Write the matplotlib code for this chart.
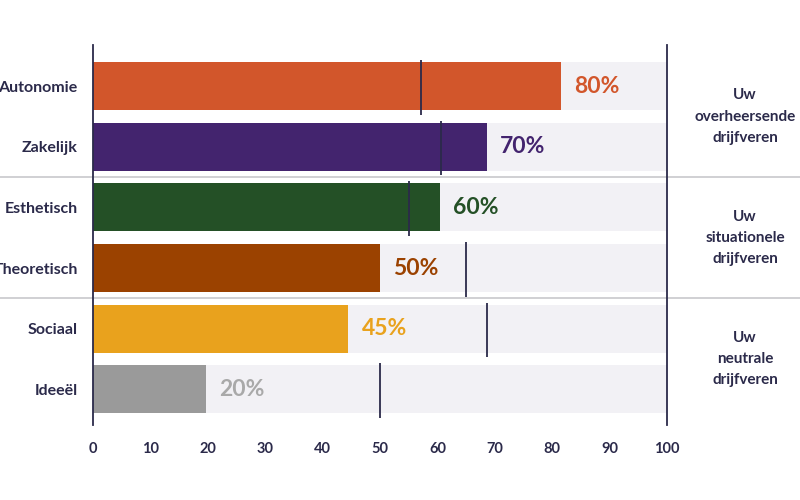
import matplotlib
matplotlib.use("Agg")
import matplotlib.pyplot as plt
import matplotlib.transforms as mtransforms

categories = ["Autonomie", "Zakelijk", "Esthetisch", "Theoretisch", "Sociaal", "Ideeël"]
values = [81.5, 68.6, 60.5, 50.0, 44.5, 19.7]
value_labels = ["80%", "70%", "60%", "50%", "45%", "20%"]
markers = [57.2, 60.6, 55.0, 65.0, 68.6, 50.0]
bar_colors = ["#d2562b", "#43246e", "#245026", "#9b4200", "#e9a21d", "#9a9a9a"]
label_colors = ["#d2562b", "#43246e", "#245026", "#9b4200", "#e9a21d", "#a9a9a9"]
groups = ["Uw\noverheersende\ndrijfveren", "Uw\nsituationele\ndrijfveren", "Uw\nneutrale\ndrijfveren"]
xticks = [0, 10, 20, 30, 40, 50, 60, 70, 80, 90, 100]

navy = "#2b2a4a"
font = "Lato"

fig = plt.figure(figsize=(8, 5), dpi=100)
ax = fig.add_axes([93/800, 1-425/500, (667-93)/800, (425-45)/500])

y = list(range(len(categories)))
ax.barh(y, [100]*len(y), height=0.79, color="#f2f1f5", zorder=1)
ax.barh(y, values, height=0.79, color=bar_colors, zorder=2)
for i, m in enumerate(markers):
    ax.plot([m, m], [i-0.43, i+0.47], color=navy, lw=1.3, zorder=3, solid_capstyle="butt")
for i, (v, lab) in enumerate(zip(values, value_labels)):
    ax.text(v+2.3, i, lab, color=label_colors[i], fontsize=16.5, fontweight="bold",
            fontfamily=font, va="center", ha="left", zorder=4)

ax.set_xlim(0, 100)
ax.set_ylim(5.59, -0.68)
ax.set_yticks(y)
ax.set_yticklabels(categories, fontfamily=font, fontweight="bold", fontsize=11.5, color=navy)
ax.set_xticks(xticks)
ax.set_xticklabels([str(t) for t in xticks], fontfamily=font, fontweight="bold", fontsize=10.5, color=navy)
ax.tick_params(axis="y", length=0, pad=11)
ax.tick_params(axis="x", length=0, pad=12)
for s in ["top", "bottom"]:
    ax.spines[s].set_visible(False)
for s in ["left", "right"]:
    ax.spines[s].set_color(navy)
    ax.spines[s].set_linewidth(1.3)

# separators across full figure width
trans = mtransforms.blended_transform_factory(fig.transFigure, ax.transData)
for sep in [1.5, 3.5]:
    ax.plot([0, 1], [sep, sep], transform=trans, color="#c8c8cc", lw=1.2, clip_on=False, zorder=0)

# group labels on the right
for k, g in enumerate(groups):
    ax.text(745/800, 2*k+0.5, g, transform=trans, ha="center", va="center",
            fontfamily=font, fontweight="bold", fontsize=11, color=navy,
            linespacing=1.65, clip_on=False)

fig.savefig("out.png", dpi=100)
